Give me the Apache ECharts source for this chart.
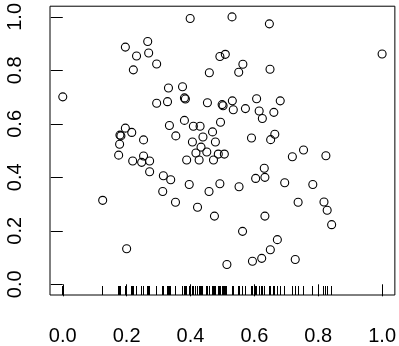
<!DOCTYPE html>
<html>
<head>
<meta charset="utf-8">
<script src="https://cdn.jsdelivr.net/npm/echarts@6/dist/echarts.min.js"></script>
<style>html,body{margin:0;padding:0;background:#fff}#c{width:399px;height:346px}</style>
</head>
<body>
<div id="c"></div>
<script>
var xValues = [0.000,0.125,0.200,0.196,0.266,0.231,0.269,0.294,0.221,0.399,
0.530,0.647,1.000,0.492,0.509,0.564,0.551,0.649,0.459,0.331,
0.375,0.381,0.384,0.294,0.328,0.453,0.499,0.502,0.531,0.534,
0.572,0.607,0.615,0.625,0.661,0.681,0.494,0.381,0.334,0.409,
0.430,0.354,0.469,0.439,0.406,0.478,0.433,0.196,0.216,0.179,
0.182,0.178,0.253,0.591,0.664,0.651,0.175,0.219,0.247,0.253,
0.272,0.272,0.315,0.338,0.313,0.353,0.396,0.422,0.458,0.475,
0.417,0.451,0.388,0.427,0.472,0.487,0.506,0.719,0.754,0.824,
0.631,0.604,0.633,0.492,0.552,0.695,0.783,0.737,0.818,0.828,
0.842,0.633,0.563,0.672,0.650,0.623,0.594,0.728,0.514];
var yValues = [0.701,0.314,0.133,0.887,0.908,0.854,0.865,0.824,0.802,0.994,
1.000,0.974,0.861,0.852,0.860,0.823,0.793,0.804,0.791,0.734,
0.739,0.697,0.693,0.677,0.683,0.679,0.672,0.668,0.686,0.653,
0.657,0.694,0.648,0.620,0.643,0.686,0.606,0.613,0.594,0.591,
0.591,0.555,0.570,0.551,0.532,0.532,0.513,0.584,0.568,0.558,
0.555,0.524,0.540,0.547,0.561,0.541,0.483,0.461,0.456,0.480,
0.461,0.421,0.406,0.391,0.347,0.307,0.373,0.288,0.347,0.255,
0.491,0.495,0.465,0.465,0.465,0.487,0.487,0.477,0.502,0.481,
0.434,0.396,0.400,0.376,0.365,0.380,0.373,0.307,0.308,0.277,
0.223,0.255,0.198,0.167,0.129,0.097,0.086,0.093,0.074];
var tickValues = [0, 0.2, 0.4, 0.6, 0.8, 1.0];
var tickLabels = ['0.0', '0.2', '0.4', '0.6', '0.8', '1.0'];
var axisMin = -0.04, axisMax = 1.04;

var points = xValues.map(function (x, i) { return [x, yValues[i]]; });
var rug = xValues.map(function (x) { return [x, axisMin]; });

function fmt(v) {
  var idx = tickValues.findIndex(function (t) { return Math.abs(t - v) < 1e-9; });
  return idx >= 0 ? tickLabels[idx] : '';
}

var chart = echarts.init(document.getElementById('c'), null, {renderer: 'canvas'});
chart.setOption({
  animation: false,
  backgroundColor: '#ffffff',
  grid: {left: 50, right: 3, top: 2, bottom: 51, show: true, borderColor: '#000', borderWidth: 1, backgroundColor: 'transparent'},
  xAxis: {
    type: 'value', min: axisMin, max: axisMax,
    axisLine: {show: false},
    splitLine: {show: false},
    axisTick: {show: true, length: 12, lineStyle: {color: '#000', width: 1}, customValues: tickValues},
    axisLabel: {show: true, customValues: tickValues, formatter: fmt, color: '#000', fontFamily: 'Liberation Sans, Arial, sans-serif', fontSize: 20, margin: 31}
  },
  yAxis: {
    type: 'value', min: axisMin, max: axisMax,
    axisLine: {show: false},
    splitLine: {show: false},
    axisTick: {show: true, length: 12, lineStyle: {color: '#000', width: 1}, customValues: tickValues},
    axisLabel: {show: true, rotate: 90, customValues: tickValues, formatter: fmt, color: '#000', fontFamily: 'Liberation Sans, Arial, sans-serif', fontSize: 20, margin: 25}
  },
  series: [
    {
      type: 'scatter', data: points, symbol: 'circle', symbolSize: 8,
      itemStyle: {color: 'rgba(0,0,0,0)', borderColor: '#000', borderWidth: 1.1, opacity: 1},
      emphasis: {disabled: true}
    },
    {
      type: 'custom', data: rug,
      renderItem: function (params, api) {
        var c = api.coord([api.value(0), api.value(1)]);
        var px = Math.round(c[0] - 0.5) + 0.5;
        return {
          type: 'line',
          shape: {x1: px, y1: c[1], x2: px, y2: c[1] - 9},
          style: {stroke: '#000', lineWidth: 1}
        };
      },
      emphasis: {disabled: true}
    }
  ]
});
</script>
</body>
</html>
